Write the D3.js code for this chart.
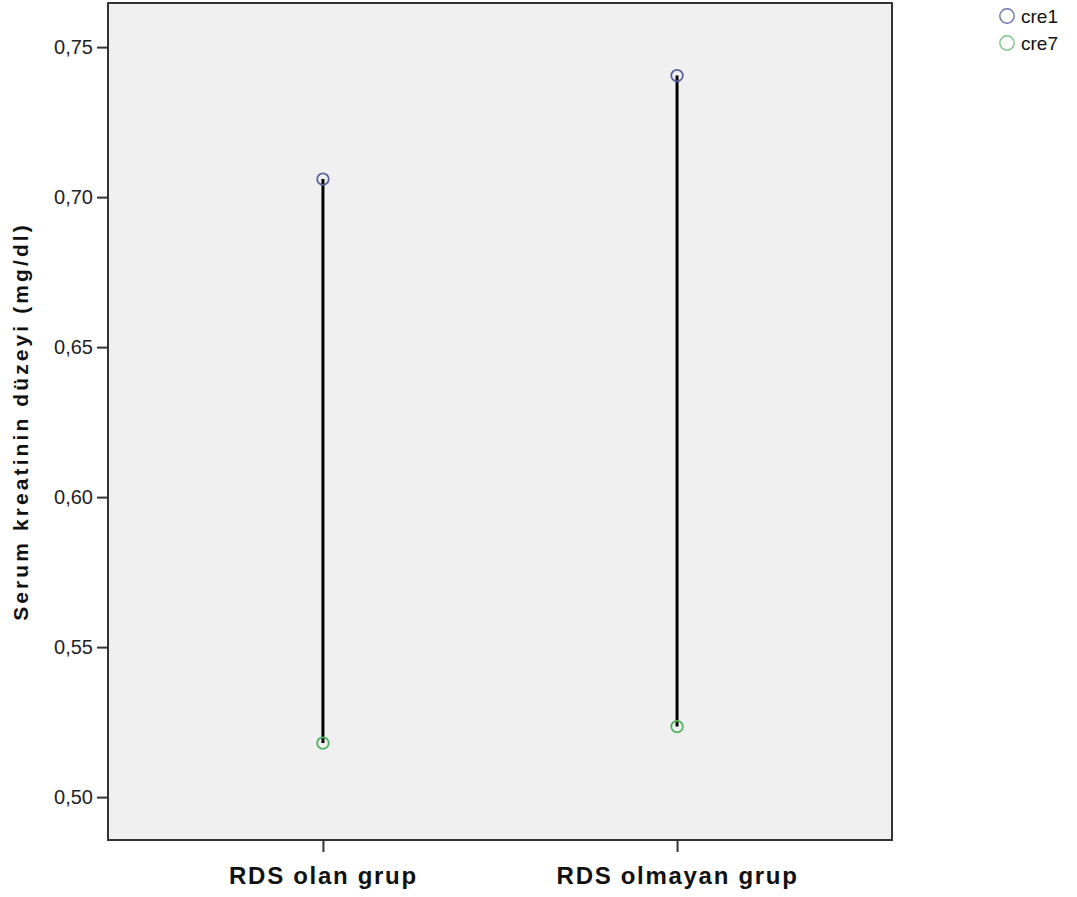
<!DOCTYPE html>
<html>
<head>
<meta charset="utf-8">
<script src="https://cdn.jsdelivr.net/npm/d3@7"></script>
<style>
    body { margin: 0; background: #fff; }
    svg { font-family: "Liberation Sans", Arial, sans-serif; }
</style>
</head>
<body>
<svg width="1077" height="897"></svg>
<script>
// data
const groups = ["RDS olan grup", "RDS olmayan grup"];
const cre1 = [0.706, 0.7405];
const cre7 = [0.518, 0.5235];
const yTicks = [0.50, 0.55, 0.60, 0.65, 0.70, 0.75];
const seriesNames = ["cre1", "cre7"];
const seriesColors = ["#5d619e", "#4fb35f"];

const svg = d3.select("svg");

const plot = { left: 108, top: 3, right: 892, bottom: 840 };

const x = d3.scalePoint()
    .domain(groups)
    .range([plot.left, plot.right])
    .padding(0.607);

const y = d3.scaleLinear()
    .domain([0.4857, 0.7647])
    .range([plot.bottom, plot.top]);

// plot background
svg.append("rect")
    .attr("x", plot.left)
    .attr("y", plot.top)
    .attr("width", plot.right - plot.left)
    .attr("height", plot.bottom - plot.top)
    .attr("fill", "#f0f0f0")
    .attr("stroke", "#333")
    .attr("stroke-width", 2);

// y axis
const yAxis = svg.append("g")
    .attr("transform", `translate(${plot.left}, 0)`)
    .call(d3.axisLeft(y)
        .tickValues(yTicks)
        .tickSize(11)
        .tickPadding(4)
        .tickFormat(d => d3.format(".2f")(d).replace(".", ",")));
yAxis.select(".domain").remove();
yAxis.selectAll("line").attr("stroke", "#333").attr("stroke-width", 2);
yAxis.selectAll("text")
    .attr("font-size", 20)
    .attr("fill", "#222")
    .attr("font-family", "Liberation Sans, Arial, sans-serif");

// x axis
const xAxis = svg.append("g")
    .attr("transform", `translate(0, ${plot.bottom})`)
    .call(d3.axisBottom(x).tickSize(12).tickPadding(15));
xAxis.select(".domain").remove();
xAxis.selectAll("line").attr("stroke", "#333").attr("stroke-width", 2);
xAxis.selectAll("text")
    .attr("font-size", 24)
    .attr("font-weight", "bold")
    .attr("letter-spacing", 1.7)
    .attr("fill", "#111")
    .attr("font-family", "Liberation Sans, Arial, sans-serif");

// y axis title
svg.append("text")
    .attr("transform", `translate(28, ${(plot.top + plot.bottom) / 2}) rotate(-90)`)
    .attr("text-anchor", "middle")
    .attr("font-size", 21)
    .attr("font-weight", "bold")
    .attr("letter-spacing", 3.1)
    .attr("fill", "#111")
    .text("Serum kreatinin düzeyi (mg/dl)");

// drop lines between cre1 and cre7
const rows = groups.map((g, i) => ({ g, a: cre1[i], b: cre7[i] }));

svg.selectAll(".drop")
    .data(rows)
    .enter()
    .append("line")
    .attr("class", "drop")
    .attr("x1", d => x(d.g))
    .attr("x2", d => x(d.g))
    .attr("y1", d => y(d.a))
    .attr("y2", d => y(d.b))
    .attr("stroke", "#000")
    .attr("stroke-width", 3);

// markers
[cre1, cre7].forEach((vals, s) => {
    svg.selectAll(`.pt${s}`)
        .data(groups)
        .enter()
        .append("circle")
        .attr("class", `pt${s}`)
        .attr("cx", d => x(d))
        .attr("cy", (d, i) => y(vals[i]))
        .attr("r", 5.8)
        .attr("fill", "none")
        .attr("stroke", seriesColors[s])
        .attr("stroke-width", 1.8);
});

// legend
const legend = svg.selectAll(".legend")
    .data(seriesNames)
    .enter()
    .append("g")
    .attr("class", "legend")
    .attr("transform", (d, i) => `translate(1007, ${16 + i * 27})`);

legend.append("circle")
    .attr("r", 7.2)
    .attr("fill", "none")
    .attr("stroke", (d, i) => i ? "#7cc487" : "#6e72ad")
    .attr("stroke-width", 1.4);

legend.append("text")
    .attr("x", 14)
    .attr("dy", "0.35em")
    .attr("font-size", 19)
    .attr("fill", "#111")
    .text(d => d);
</script>
</body>
</html>
